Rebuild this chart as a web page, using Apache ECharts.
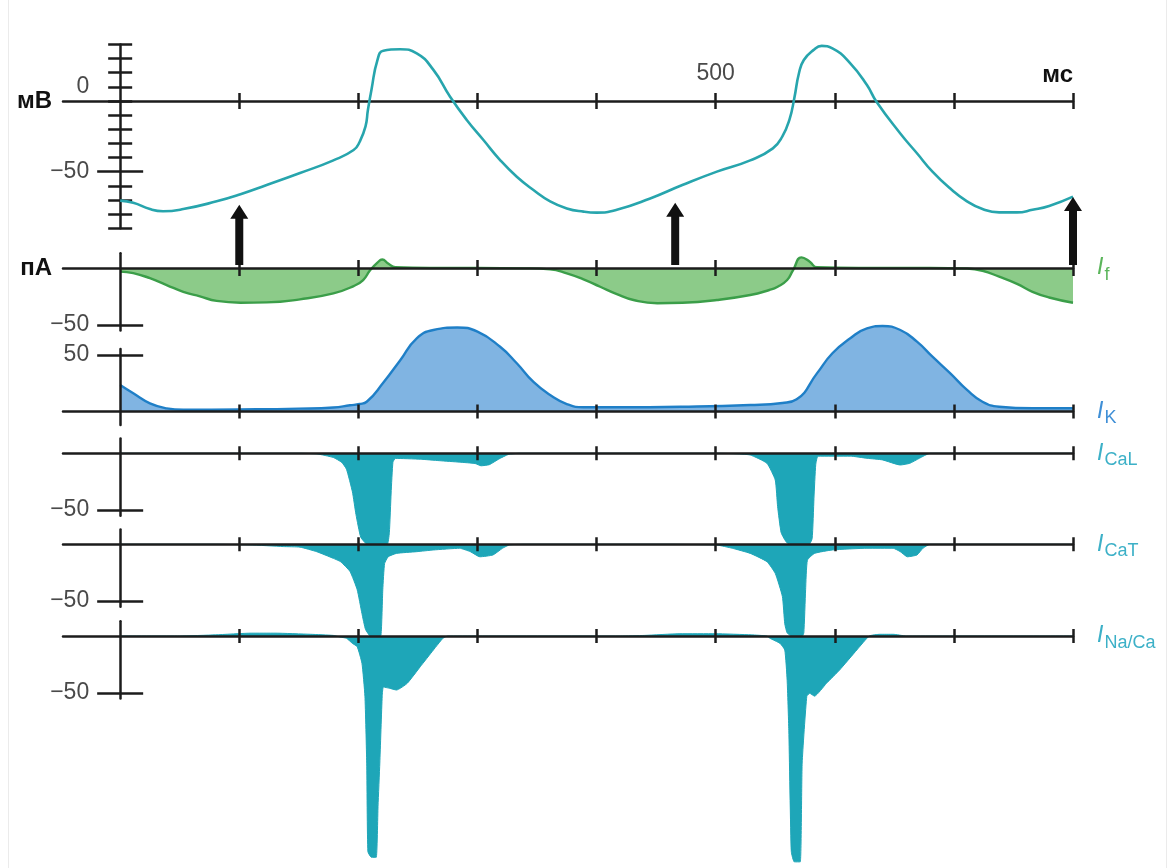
<!DOCTYPE html>
<html>
<head>
<meta charset="utf-8">
<title>Ионные токи синусного узла</title>
<script src="https://cdn.jsdelivr.net/npm/echarts@6/dist/echarts.min.js"></script>
<style>
  html, body { margin: 0; padding: 0; background: #fff; }
  #chart { width: 1171px; height: 868px; }
</style>
</head>
<body>
<div id="chart"></div>
<script>
// ---- Time axis (ms) ----
const X_TICKS = [100, 200, 300, 400, 500, 600, 700, 800];
const X_LABELS = [500];

// ---- Membrane potential (mV) ----
const T_V = [0, 11, 25, 36, 53, 81, 101, 123, 151, 179, 196, 201, 206, 208, 211, 216, 221, 235, 249, 263,
  277, 291, 305, 319, 333, 347, 361, 375, 389, 400, 417, 445, 472, 501, 529, 548, 556, 562, 566, 570,
  574, 582, 589, 598, 613, 627, 635, 655, 669, 682, 697, 711, 724, 738, 753, 766, 780, 800];
const V = [-70.5, -72, -76.5, -78, -76.5, -71, -66, -59.5, -51, -42, -34.7, -29, -18, -6.4, 8, 29, 35.6, 36.6, 33.7, 22,
  3, -13.4, -27.6, -41.8, -53.6, -63, -71, -76, -78.3, -79, -77, -69, -59.5, -50, -42, -33.5, -25, -13, 2, 20,
  29, 36, 39, 37.3, 26.7, 11.3, -0.5, -23, -37, -50, -62, -71, -76.5, -78.8, -78.8, -77, -74.3, -67.7];
const MV_TICKS = [-90, -80, -70, -60, -50, -40, -30, -20, -10, 0, 10, 20, 30, 40];
const MV_LABELS = [0, -50];

// ---- I_f (pA) ----
const T_F = [0, 11, 25, 39, 53, 67, 81, 101, 123, 151, 179, 196, 204, 210, 216, 220, 225, 231, 260, 300,
  340, 361, 375, 389, 403, 417, 431, 451, 472, 501, 529, 545, 552, 560, 565, 572, 579, 585, 620, 680,
  711, 724, 738, 753, 766, 780, 800];
const I_F = [-3.2, -4.5, -9, -15, -21, -25, -29, -30.6, -30.3, -27.6, -22.4, -15.9, -10.6, -1.8, 4.7, 7.5, 4, 0.6, 0, 0,
  -0.3, -1.2, -4.7, -10, -16.5, -23, -28.2, -31, -30.6, -28.2, -23.8, -19.4, -16.5, -10.6, -1.8, 9.4, 5.6, 0.6, 0, 0,
  -0.5, -2.4, -7.7, -14, -21, -26, -30.6];

// ---- I_K (pA) ----
const T_K = [0, 11, 25, 39, 53, 100, 150, 179, 193, 201, 207, 221, 235, 249, 263, 283, 300, 319, 333, 347,
  361, 375, 389, 417, 472, 529, 556, 568, 585, 598, 613, 627, 640, 655, 669, 682, 697, 711, 724, 738,
  766, 800];
const I_K = [23.3, 16, 7.2, 2.8, 1.5, 1.8, 2.5, 3.5, 5.5, 6.6, 8.6, 25.5, 45, 64.5, 71.8, 74, 70.3, 57, 42.5, 26,
  14.5, 6.6, 3.7, 3.7, 4.2, 5.7, 7.5, 10.7, 33.6, 51.3, 64.5, 73.3, 75.3, 71.8, 61.5, 48.3, 33.6, 19, 8.6, 4.2,
  2.8, 2.8];

// ---- I_CaL (pA) ----
const T_CAL = [0, 150, 165, 179, 186, 190, 195, 198, 202, 207, 215, 224, 226, 227.5, 229, 231, 252, 268, 285, 298,
  303, 310, 318, 326, 335, 500, 515, 529, 543, 550, 552, 555, 560, 570, 578, 581, 582.5, 584, 586, 613,
  627, 640, 655, 663, 671, 680, 800];
const I_CAL = [0, 0, -0.5, -3.7, -8, -14, -34, -54, -74, -80, -81, -81, -70, -35, -8, -4.5, -5.2, -6.5, -7.8, -9,
  -11, -10, -5, -1, 0, 0, -0.3, -1.5, -8.8, -23.5, -47, -70, -79, -81, -81, -75, -40, -10, -2.5, -2.5,
  -4.4, -5.8, -10.3, -8.8, -4.4, 0, 0];

// ---- I_CaT (pA) ----
const T_CAT = [0, 80, 109, 137, 151, 165, 179, 185, 193, 199, 203, 206, 210, 216, 219, 220.5, 222, 225, 232, 249,
  263, 285, 294, 302, 313, 321, 327, 340, 460, 490, 501, 514, 529, 543, 550, 556, 558, 560, 565, 572,
  574, 575.5, 577, 583, 598, 627, 649, 655, 661, 669, 674, 680, 800];
const I_CAT = [0, 0, -0.5, -2, -2.5, -6.5, -12.4, -15.3, -24, -40, -61, -75, -81, -82, -80, -40, -17, -11, -8, -6.5,
  -5, -3.5, -6.5, -11, -9.4, -3.5, -0.5, 0, 0, -0.3, -0.6, -3.5, -8, -15.3, -25.6, -46, -70, -78, -82, -82,
  -78, -40, -14, -8, -5, -3.5, -3.5, -6.5, -11, -9.4, -3.5, 0, 0];

// ---- I_Na/Ca (pA) ----
const T_NCX = [0, 50, 80, 110, 130, 160, 179, 185, 190, 195, 199, 203, 205.5, 207, 208, 211, 215, 216.5, 218, 220,
  221, 226, 232, 241, 252, 263, 271, 275, 300, 420, 440, 470, 500, 530, 543, 545.5, 554, 558, 560, 561.4,
  563.5, 566, 571, 572.6, 576.5, 579, 583, 593, 604, 618.5, 629, 638, 649, 660, 800];
const I_NCX = [0, 0, 1, 2.5, 2.5, 1.5, 0.5, -1, -2, -6.5, -9.4, -24, -53, -112, -190, -195, -195, -150, -112, -53,
  -45, -46, -47.6, -41.7, -27, -12.3, -2, 0, 0, 0, 0.5, 2, 2, 1, 0, -2, -6.5, -12.3, -39, -83,
  -190, -199, -199, -112, -53, -50.5, -53, -41.7, -30, -12.3, 0, 1.5, 1.5, 0, 0];

// ---- Stimulus arrows (ms, mV) ----
const ARROW_T = [100, 466, 800];
const ARROW_TIP = [-73.5, -72, -68];
const ARROW_BASE = -116;

// ---- Layout ----
const X_MIN = -48, X_MAX = 800;
const GRID_LEFT = 63, GRID_W = 1010;
const PX_MS = GRID_W / (X_MAX - X_MIN);
const ZERO_X = GRID_LEFT + (0 - X_MIN) * PX_MS;
const K_MV = 1.413, K_PA = 1.135;

const AXIS_COLOR = '#1c1c1c';
const TEXT_GREY = '#4a4a4a';
const FONT = "'Liberation Sans', Arial, sans-serif";
const C_V = '#27a5ad';
const C_F_LINE = '#3b9e49', C_F_FILL = '#8ccb89', C_F_TEXT = '#5bb55b';
const C_K_LINE = '#1f7fc7', C_K_FILL = '#80b4e2', C_K_TEXT = '#3f8fd6';
const C_CA = '#1ea6b8', C_CA_TEXT = '#3cb0c7';

// panels: membrane potential, then five currents
const PANELS = [
  { zeroY: 101,   min: -90, max: 40, k: K_MV },
  { zeroY: 268,   min: -55, max: 13, k: K_PA },
  { zeroY: 411.5, min: -12, max: 55, k: K_PA },
  { zeroY: 453.3, min: -55, max: 13, k: K_PA },
  { zeroY: 544.3, min: -55, max: 13, k: K_PA },
  { zeroY: 636,   min: -55, max: 13, k: K_PA }
];

function zip(ts, vs) { return ts.map((t, i) => [t, vs[i]]); }
function panelTop(p) { return p.zeroY - p.max * p.k; }
function panelHeight(p) { return (p.max - p.min) * p.k; }

function currentName(sub, color) {
  return {
    text: '{i|I}{s|' + sub + '}',
    style: {
      rich: {
        i: { fontStyle: 'italic', fontSize: 23, color: color, fontFamily: FONT },
        s: { fontSize: 18, color: color, fontFamily: FONT, padding: [14, 0, 0, 1] }
      }
    }
  };
}

const grids = [], xAxes = [], yAxes = [];
const tickLine = { color: AXIS_COLOR, width: 2.5 };

function addPanel(p, cfg) {
  const gi = grids.length;
  const top = panelTop(p), h = panelHeight(p);
  grids.push({ left: GRID_LEFT, width: GRID_W, top: top, height: h, containLabel: false, outerBoundsMode: 'none' });

  const xBase = {
    type: 'value', gridIndex: gi, min: X_MIN, max: X_MAX, z: 5,
    splitLine: { show: false }
  };
  const xDown = Object.assign({}, xBase, {
    position: 'bottom', offset: p.zeroY - (top + h),
    axisLine: { show: true, onZero: false, lineStyle: { color: AXIS_COLOR, width: 2.5 } },
    axisTick: { show: true, customValues: X_TICKS, length: cfg.xTick, lineStyle: tickLine },
    axisLabel: { show: false }
  });
  const xUp = Object.assign({}, xBase, {
    position: 'top', offset: top - p.zeroY,
    axisLine: { show: false, onZero: false },
    axisTick: { show: true, customValues: X_TICKS, length: cfg.xTick, lineStyle: tickLine },
    axisLabel: cfg.xLabels ? {
      show: true, customValues: cfg.xLabels, margin: 16, fontSize: 23, color: TEXT_GREY, fontFamily: FONT
    } : { show: false }
  });
  if (cfg.startName) {
    xDown.name = cfg.startName;
    xDown.nameLocation = 'start';
    xDown.nameGap = 11;
    xDown.nameTextStyle = { fontSize: 24, fontWeight: 'bold', color: '#111', fontFamily: FONT };
  }
  if (cfg.endName) {
    xUp.name = cfg.endName.text;
    xUp.nameLocation = 'end';
    xUp.nameGap = cfg.endGap;
    xUp.nameTextStyle = cfg.endName.style;
  }
  const xi = xAxes.length;
  xAxes.push(xDown, xUp);

  const yBase = {
    type: 'value', gridIndex: gi, min: p.min, max: p.max, z: 5,
    splitLine: { show: false }
  };
  const leftOff = GRID_LEFT - ZERO_X;
  const rightOff = ZERO_X - (GRID_LEFT + GRID_W);
  const yi = yAxes.length;
  cfg.yTicks.forEach((tk, n) => {
    yAxes.push(Object.assign({}, yBase, {
      position: 'left', offset: leftOff,
      axisLine: { show: n === 0, onZero: false, lineStyle: { color: AXIS_COLOR, width: 2.5 } },
      axisTick: { show: true, customValues: tk.values, length: tk.len, lineStyle: tickLine },
      axisLabel: tk.labels ? {
        show: true, customValues: tk.labels, margin: 31, fontSize: 23, color: TEXT_GREY, fontFamily: FONT,
        formatter: v => v === 0 ? '{z|0}' : (v < 0 ? '\u2212' : '') + Math.abs(v),
        rich: { z: { fontSize: 23, color: TEXT_GREY, fontFamily: FONT, padding: [0, 0, 29, 0] } }
      } : { show: false }
    }));
    yAxes.push(Object.assign({}, yBase, {
      position: 'right', offset: rightOff,
      axisLine: { show: false, onZero: false },
      axisTick: { show: true, customValues: tk.values, length: tk.len, lineStyle: tickLine },
      axisLabel: { show: false }
    }));
  });
  return { x: xi, y: yi };
}

// membrane potential panel
const axV = addPanel(PANELS[0], {
  xTick: 8, xLabels: X_LABELS,
  startName: 'мВ',
  endName: {
    text: 'мс',
    style: { fontSize: 24, fontWeight: 'bold', color: '#111', fontFamily: FONT,
             align: 'right', verticalAlign: 'bottom', padding: [0, 0, 14, 0] }
  },
  endGap: 0,
  yTicks: [
    { values: MV_TICKS, len: 12 },
    { values: [-50], len: 23, labels: MV_LABELS }
  ]
});
const axF = addPanel(PANELS[1], {
  xTick: 8, startName: 'пА', endName: currentName('f', C_F_TEXT), endGap: 24,
  yTicks: [{ values: [-50], len: 23, labels: [-50] }]
});
const axK = addPanel(PANELS[2], {
  xTick: 7, endName: currentName('K', C_K_TEXT), endGap: 24,
  yTicks: [{ values: [50], len: 23, labels: [50] }]
});
const axCaL = addPanel(PANELS[3], {
  xTick: 7, endName: currentName('CaL', C_CA_TEXT), endGap: 24,
  yTicks: [{ values: [-50], len: 23, labels: [-50] }]
});
const axCaT = addPanel(PANELS[4], {
  xTick: 7, endName: currentName('CaT', C_CA_TEXT), endGap: 24,
  yTicks: [{ values: [-50], len: 23, labels: [-50] }]
});
const axNcx = addPanel(PANELS[5], {
  xTick: 7, endName: currentName('Na/Ca', C_CA_TEXT), endGap: 24,
  yTicks: [{ values: [-50], len: 23, labels: [-50] }]
});

// overlay grid in mV units, extended downward for the stimulus arrows
const OV_MIN = -130, OV_MAX = 40;
const ovGrid = grids.length;
grids.push({
  left: GRID_LEFT, width: GRID_W,
  top: PANELS[0].zeroY - OV_MAX * K_MV, height: (OV_MAX - OV_MIN) * K_MV,
  containLabel: false, outerBoundsMode: 'none'
});
const ovX = xAxes.length;
xAxes.push({ type: 'value', gridIndex: ovGrid, min: X_MIN, max: X_MAX, show: false });
const ovY = yAxes.length;
yAxes.push({ type: 'value', gridIndex: ovGrid, min: OV_MIN, max: OV_MAX, show: false });

function areaSeries(ax, data, lineColor, fillColor, lineWidth, smooth) {
  return {
    type: 'line', xAxisIndex: ax.x, yAxisIndex: ax.y, data: data,
    smooth: smooth, symbol: 'none', clip: false, z: 2,
    lineStyle: { color: lineColor, width: lineWidth },
    areaStyle: { color: fillColor, opacity: 1 }
  };
}

const option = {
  animation: false,
  backgroundColor: '#ffffff',
  textStyle: { fontFamily: FONT },
  grid: grids,
  xAxis: xAxes,
  yAxis: yAxes,
  graphic: [{
    type: 'rect', silent: true, z: -10,
    shape: { x: 8.5, y: -20, width: 1158, height: 920 },
    style: { fill: 'none', stroke: '#ebebeb', lineWidth: 1 }
  }],
  series: [
    {
      type: 'line', xAxisIndex: axV.x, yAxisIndex: axV.y, data: zip(T_V, V),
      smooth: 0.5, symbol: 'none', z: 10,
      lineStyle: { color: C_V, width: 2.6 }
    },
    areaSeries(axF, zip(T_F, I_F), C_F_LINE, C_F_FILL, 2.4, 0.5),
    areaSeries(axK, zip(T_K, I_K), C_K_LINE, C_K_FILL, 2.4, 0.5),
    areaSeries(axCaL, zip(T_CAL, I_CAL), C_CA, C_CA, 1, 0.15),
    areaSeries(axCaT, zip(T_CAT, I_CAT), C_CA, C_CA, 1, 0.15),
    areaSeries(axNcx, zip(T_NCX, I_NCX), C_CA, C_CA, 1, 0.15),
    {
      type: 'custom', xAxisIndex: ovX, yAxisIndex: ovY, z: 12, clip: false,
      data: ARROW_T.map((t, i) => [t, ARROW_BASE, ARROW_TIP[i]]),
      renderItem: function (params, api) {
        const b = api.coord([api.value(0), api.value(1)]);
        const tp = api.coord([api.value(0), api.value(2)]);
        const x = b[0], sw = 4, hw = 9, hl = 14;
        return {
          type: 'polygon',
          shape: { points: [
            [x - sw, b[1]], [x - sw, tp[1] + hl], [x - hw, tp[1] + hl], [x, tp[1]],
            [x + hw, tp[1] + hl], [x + sw, tp[1] + hl], [x + sw, b[1]]
          ] },
          style: { fill: '#111' }
        };
      }
    }
  ]
};

const chart = echarts.init(document.getElementById('chart'), null, { renderer: 'canvas' });
chart.setOption(option);
</script>
</body>
</html>
